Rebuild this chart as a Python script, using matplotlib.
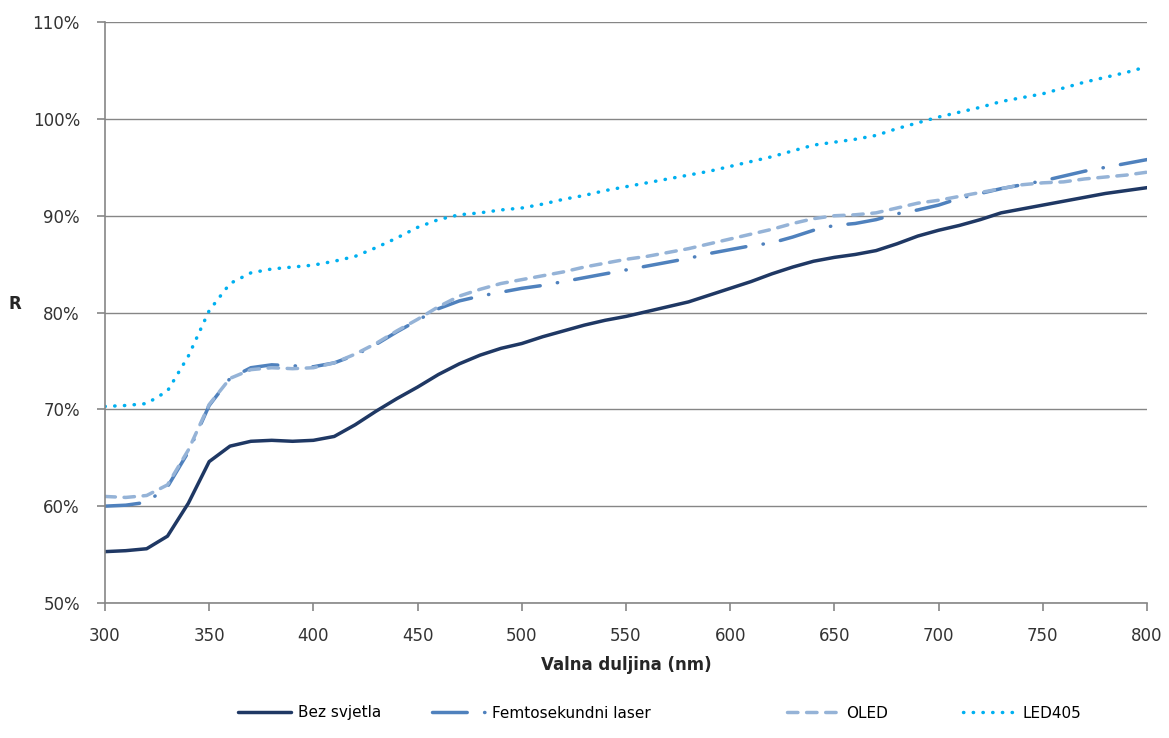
import numpy as np
import matplotlib
matplotlib.use("Agg")
import matplotlib.pyplot as plt
from matplotlib.ticker import PercentFormatter, MultipleLocator

# wavelength grid (nm)
wavelength = list(range(300, 801, 10))

bez_svjetla = [55.3, 55.4, 55.6, 56.9, 60.3, 64.6, 66.2, 66.7, 66.8, 66.7,
               66.8, 67.2, 68.4, 69.8, 71.1, 72.3, 73.6, 74.7, 75.6, 76.3,
               76.8, 77.5, 78.1, 78.7, 79.2, 79.6, 80.1, 80.6, 81.1, 81.8,
               82.5, 83.2, 84.0, 84.7, 85.3, 85.7, 86.0, 86.4, 87.1, 87.9,
               88.5, 89.0, 89.6, 90.3, 90.7, 91.1, 91.5, 91.9, 92.3, 92.6,
               92.9]

femto_laser = [60.0, 60.1, 60.4, 62.0, 65.6, 70.4, 73.2, 74.3, 74.6, 74.5,
               74.4, 74.8, 75.6, 76.7, 78.0, 79.2, 80.4, 81.2, 81.7, 82.1,
               82.5, 82.8, 83.2, 83.6, 84.0, 84.4, 84.8, 85.2, 85.6, 86.1,
               86.5, 86.9, 87.2, 87.8, 88.5, 89.0, 89.2, 89.6, 90.2, 90.6,
               91.1, 91.8, 92.3, 92.8, 93.2, 93.6, 94.1, 94.6, 95.0, 95.4,
               95.8]

oled = [61.0, 60.9, 61.1, 62.2, 65.8, 70.5, 73.2, 74.1, 74.3, 74.2,
        74.3, 74.8, 75.7, 76.8, 78.1, 79.3, 80.6, 81.7, 82.4, 83.0,
        83.4, 83.8, 84.2, 84.7, 85.1, 85.5, 85.8, 86.2, 86.6, 87.1,
        87.6, 88.1, 88.6, 89.2, 89.7, 90.0, 90.1, 90.3, 90.8, 91.3,
        91.6, 92.0, 92.4, 92.8, 93.2, 93.4, 93.5, 93.8, 94.0, 94.2,
        94.5]

led405 = [70.3, 70.4, 70.6, 71.9, 75.5, 80.2, 83.0, 84.1, 84.5, 84.7,
          84.9, 85.3, 85.8, 86.7, 87.7, 88.8, 89.6, 90.1, 90.3, 90.6,
          90.8, 91.2, 91.7, 92.1, 92.6, 93.0, 93.4, 93.8, 94.2, 94.6,
          95.1, 95.6, 96.1, 96.7, 97.3, 97.6, 97.9, 98.3, 99.0, 99.6,
          100.2, 100.7, 101.2, 101.8, 102.2, 102.6, 103.2, 103.8, 104.3, 104.8,
          105.4]

labels = ["Bez svjetla", "Femtosekundni laser", "OLED", "LED405"]

fig = plt.figure(figsize=(11.69, 7.38), dpi=100)
ax = fig.add_axes([0.0898, 0.183, 0.8914, 0.787])

grey = "#868686"
lw = 2.5

lines = []
lines += ax.plot(wavelength, bez_svjetla, color="#1F3864", lw=lw,
                 solid_capstyle="round", label=labels[0])
lines += ax.plot(wavelength, femto_laser, color="#4F81BD", lw=lw,
                 dashes=(10, 5, 0.1, 5), dash_capstyle="round", label=labels[1])
lines += ax.plot(wavelength, oled, color="#95B3D7", lw=lw,
                 dashes=(3, 2.5), dash_capstyle="round", label=labels[2])
lines += ax.plot(wavelength, led405, color="#00B0F0", lw=lw,
                 dashes=(0.1, 2.7), dash_capstyle="round", label=labels[3])

ax.set_xlim(300, 800)
ax.set_ylim(50, 110)
ax.xaxis.set_major_locator(MultipleLocator(50))
ax.yaxis.set_major_locator(MultipleLocator(10))
ax.yaxis.set_major_formatter(PercentFormatter(decimals=0))

ax.grid(axis="y", color=grey, lw=1)
ax.set_axisbelow(True)
for s in ["top", "right"]:
    ax.spines[s].set_visible(False)
for s in ["left", "bottom"]:
    ax.spines[s].set_color(grey)
    ax.spines[s].set_linewidth(1.2)
ax.tick_params(axis="both", colors=grey, length=6, width=1.2,
               labelsize=12, labelcolor="#333333")
ax.tick_params(axis="y", pad=12)
ax.tick_params(axis="x", pad=11)

ax.set_xlabel("Valna duljina (nm)", fontsize=12, fontweight="bold",
              color="#262626", labelpad=8)
ax.set_ylabel("R", fontsize=12, fontweight="bold", rotation=0,
              color="#262626")
ax.yaxis.set_label_coords(-0.086, 0.5)

# legend entries placed like the original (uneven column spacing)
legend_x = [238, 432, 787, 963]
for line, x in zip(lines, legend_x):
    fig.legend(handles=[line], loc="center left",
               bbox_to_anchor=(x / 1169, 1 - 713 / 738),
               frameon=False, fontsize=11, handlelength=3.5,
               handletextpad=0.4, borderpad=0, borderaxespad=0)

fig.savefig("out.png", dpi=100)
